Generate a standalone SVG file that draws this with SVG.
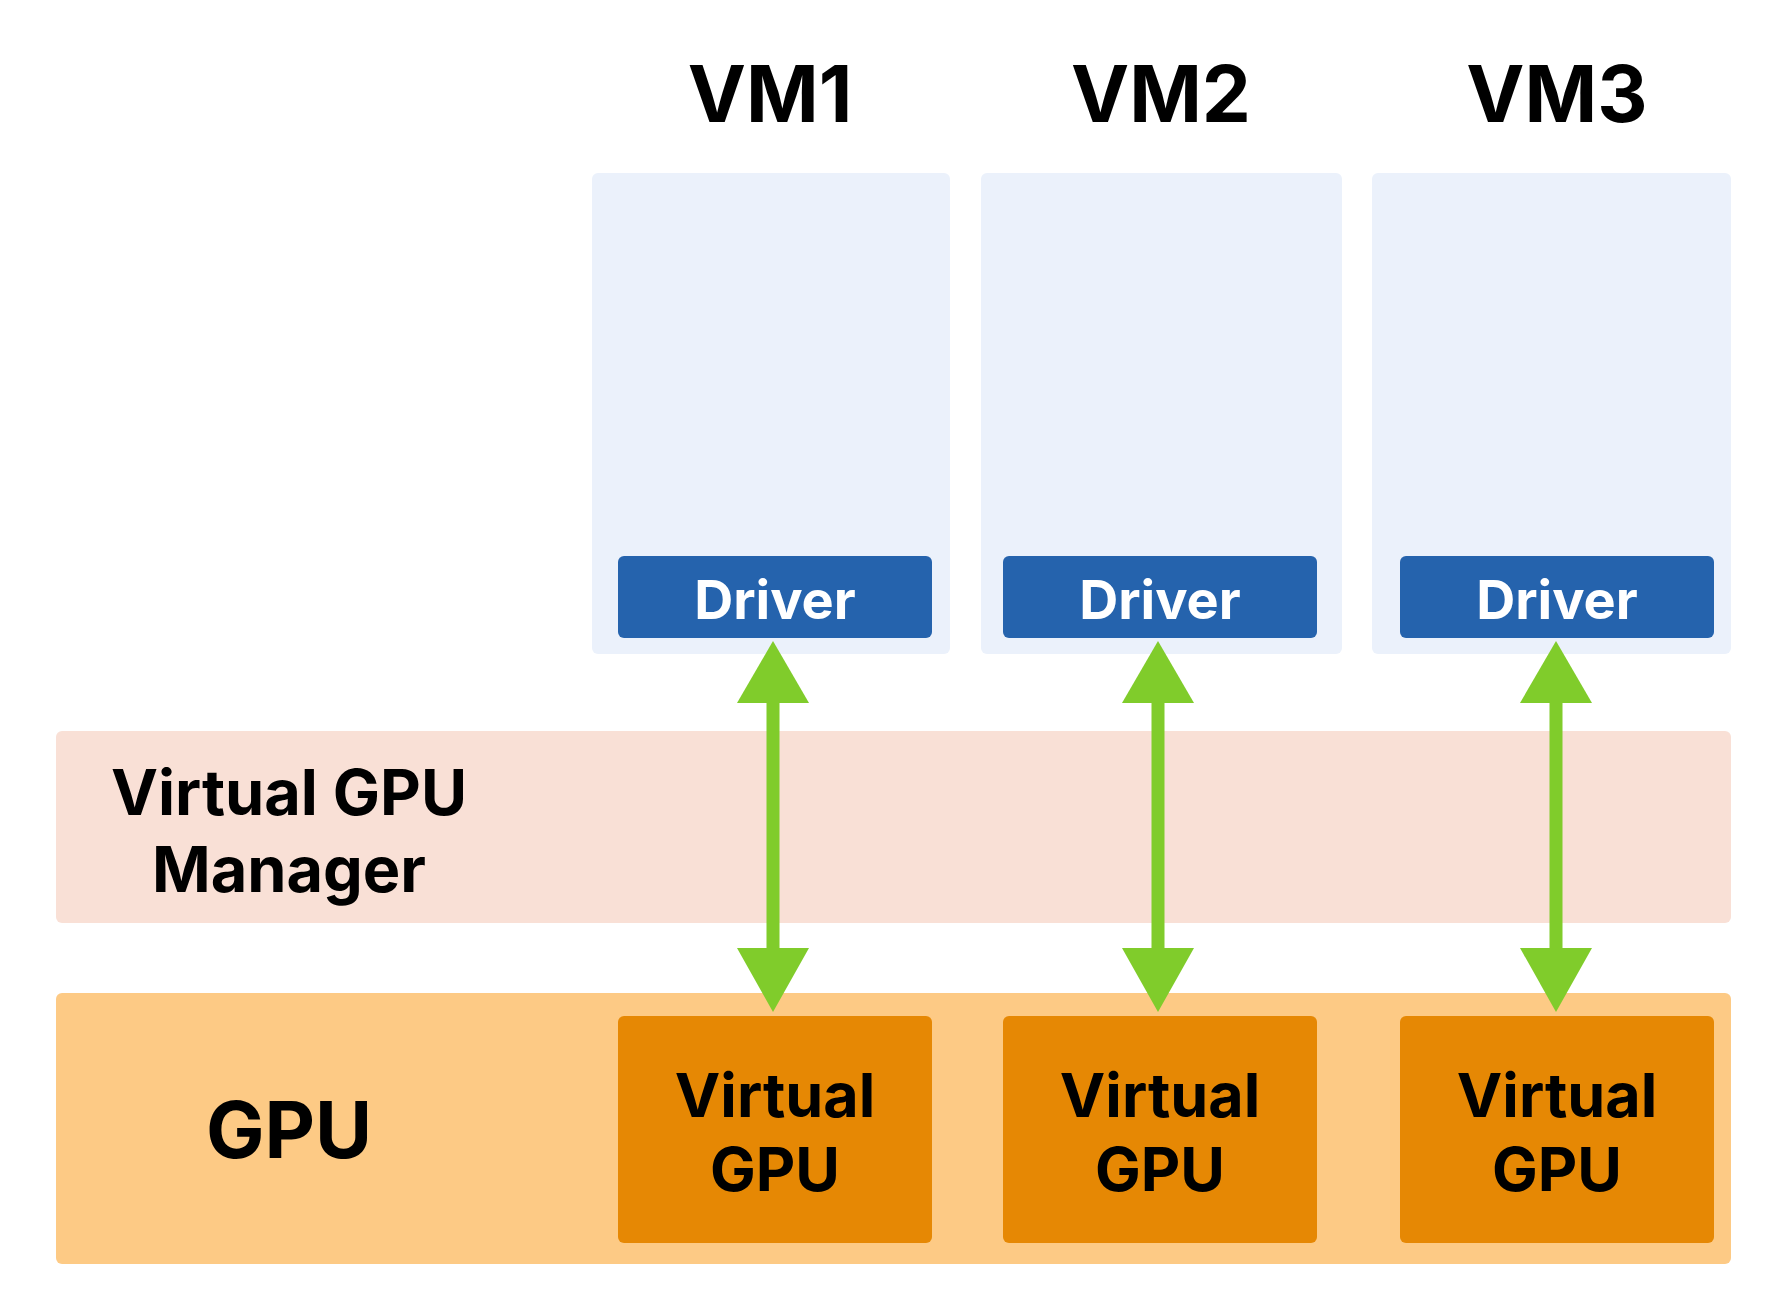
<svg xmlns="http://www.w3.org/2000/svg" width="1784" height="1312" viewBox="0 0 1784 1312">
<style>
text{font-family:Inter,"Liberation Sans",sans-serif;font-weight:700;text-anchor:middle}
.vm{fill:#ebf1fb}
.drv{fill:#2563ad}
.vg{fill:#e68804}
.dt{fill:#fff;font-size:54px}
.vt{fill:#000;font-size:61px}
.mt{fill:#000;font-size:63px}
.h{fill:#000;font-size:78px}
.ar{stroke:#80cc2b;stroke-width:13}
.ah{fill:#80cc2b}
</style>
<rect width="1784" height="1312" fill="#fff"/>
<g id="vgpu-manager"><rect x="56" y="731" width="1675" height="192" rx="6" fill="#f9e0d6"/>
<text class="mt" x="289" y="815">Virtual GPU</text><text class="mt" x="289" y="892">Manager</text></g>
<g id="gpu"><rect x="56" y="993" width="1675" height="271" rx="6" fill="#fdca85"/>
<text class="h" x="289" y="1158" font-size="86">GPU</text></g>
<g id="vm1"><text class="h" x="770" y="122">VM1</text><rect class="vm" x="592" y="173" width="358" height="481" rx="6"/></g>
<g id="vm2"><text class="h" x="1161" y="122">VM2</text><rect class="vm" x="981" y="173" width="361" height="481" rx="6"/></g>
<g id="vm3"><text class="h" x="1557" y="122">VM3</text><rect class="vm" x="1372" y="173" width="359" height="481" rx="6"/></g>
<g id="driver1"><rect class="drv" x="618" y="556" width="314" height="82" rx="6"/><text class="dt" x="775" y="619">Driver</text></g>
<g id="driver2"><rect class="drv" x="1003" y="556" width="314" height="82" rx="6"/><text class="dt" x="1160" y="619">Driver</text></g>
<g id="driver3"><rect class="drv" x="1400" y="556" width="314" height="82" rx="6"/><text class="dt" x="1557" y="619">Driver</text></g>
<g id="vgpu1"><rect class="vg" x="618" y="1016" width="314" height="227" rx="6"/><text class="vt" x="775" y="1117">Virtual</text><text class="vt" x="775" y="1191">GPU</text></g>
<g id="vgpu2"><rect class="vg" x="1003" y="1016" width="314" height="227" rx="6"/><text class="vt" x="1160" y="1117">Virtual</text><text class="vt" x="1160" y="1191">GPU</text></g>
<g id="vgpu3"><rect class="vg" x="1400" y="1016" width="314" height="227" rx="6"/><text class="vt" x="1557" y="1117">Virtual</text><text class="vt" x="1557" y="1191">GPU</text></g>
<g id="connectors">
<line class="ar" x1="773" y1="698" x2="773" y2="953"/><polygon class="ah" points="773,641 737,703 809,703"/><polygon class="ah" points="773,1012 737,948 809,948"/>
<line class="ar" x1="1158" y1="698" x2="1158" y2="953"/><polygon class="ah" points="1158,641 1122,703 1194,703"/><polygon class="ah" points="1158,1012 1122,948 1194,948"/>
<line class="ar" x1="1556" y1="698" x2="1556" y2="953"/><polygon class="ah" points="1556,641 1520,703 1592,703"/><polygon class="ah" points="1556,1012 1520,948 1592,948"/>
</g>
</svg>
